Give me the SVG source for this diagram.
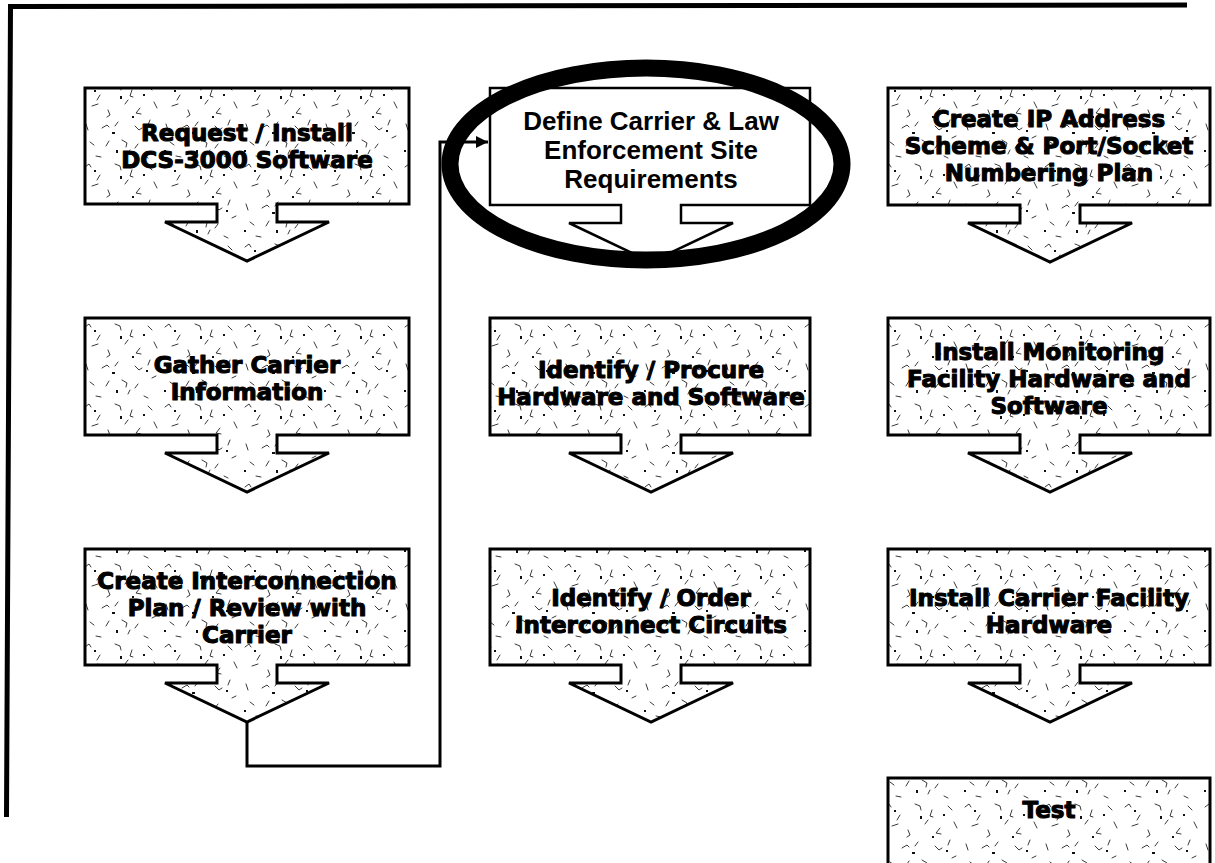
<svg xmlns="http://www.w3.org/2000/svg" width="1215" height="863" viewBox="0 0 1215 863">
  <style>
    .box { stroke: #000; stroke-width: 3; stroke-linejoin: miter; fill: url(#tex); }
    .plain { stroke: #000; stroke-width: 2.5; fill: #fff; }
    .t { font-family: "DejaVu Sans", "Liberation Sans", sans-serif; font-weight: bold; font-size: 23px; fill: #000; stroke: #000; stroke-width: 1.1; stroke-linejoin: round; text-anchor: middle; }
    .td { font-family: "Liberation Sans", Arial, sans-serif; font-weight: bold; font-size: 26px; fill: #000; text-anchor: middle; }
    .conn { fill: none; stroke: #000; stroke-width: 3; }
    .frame { fill: none; stroke: #000; stroke-width: 5; }
  </style>
  <defs>
    <pattern id="tex" width="80" height="80" patternUnits="userSpaceOnUse">
      <rect width="80" height="80" fill="#fff"/>
      <g fill="none" stroke="#222" stroke-width="0.9" stroke-linecap="round">
        <path d="M5 7 l4 -3 l2 3"/>
        <path d="M20 15 l-3 5"/>
        <path d="M35 4 l5 2 l1 4"/>
        <path d="M52 10 l-2 6 l3 1"/>
        <path d="M68 6 l4 4"/>
        <path d="M12 26 l6 -2"/>
        <path d="M28 30 l2 5 l-3 2"/>
        <path d="M45 24 l3 -4"/>
        <path d="M60 28 l-4 5 l5 1"/>
        <path d="M74 22 l3 6"/>
        <path d="M6 44 l2 6"/>
        <path d="M22 48 l5 -3 l2 2"/>
        <path d="M38 42 l-3 4"/>
        <path d="M55 46 l4 4 l3 -2"/>
        <path d="M70 40 l-2 5"/>
        <path d="M10 62 l4 3"/>
        <path d="M26 66 l3 -5"/>
        <path d="M42 60 l5 3 l-1 4"/>
        <path d="M58 64 l-3 4"/>
        <path d="M72 58 l4 -2"/>
        <path d="M16 76 l5 1"/>
        <path d="M48 74 l2 -4"/>
        <path d="M64 76 l4 2"/>
      </g>
      <g fill="#111">
        <rect x="14" y="10" width="2" height="2"/>
        <rect x="40" y="16" width="2" height="3"/>
        <rect x="63" y="14" width="2" height="2"/>
        <rect x="32" y="52" width="3" height="2"/>
        <rect x="66" y="50" width="2" height="2"/>
        <rect x="4" y="70" width="2" height="2"/>
        <rect x="52" y="36" width="2" height="2"/>
        <rect x="36" y="70" width="2" height="3"/>
      </g>
    </pattern>
    <marker id="ah" viewBox="0 0 10 10" refX="10" refY="5" markerWidth="4" markerHeight="4" orient="auto">
      <path d="M0 0 L10 5 L0 10 Z" fill="#000"/>
    </marker>
  </defs>

  <g id="connectors">
    <path class="frame" d="M1187 5 L10.5 6.5 L6.5 817"/>
    <path class="conn" d="M247 722 V766 H440 V142 H488" marker-end="url(#ah)"/>
  </g>

  <g id="n1">
    <path class="box" d="M85 88 H409 V204 H277 V222 H329 L247 261 L165 222 H217 V204 H85 Z"/>
    <text class="t" x="247" y="141">Request / Install</text>
    <text class="t" x="247" y="168">DCS-3000 Software</text>
  </g>
  <g id="n2">
    <path class="box" d="M85 318 H409 V435 H277 V453 H329 L247 492 L165 453 H217 V435 H85 Z"/>
    <text class="t" x="247" y="373">Gather Carrier</text>
    <text class="t" x="247" y="400">Information</text>
  </g>
  <g id="n3">
    <path class="box" d="M85 549 H409 V665 H277 V683 H329 L247 722 L165 683 H217 V665 H85 Z"/>
    <text class="t" x="247" y="589">Create Interconnection</text>
    <text class="t" x="247" y="616">Plan / Review with</text>
    <text class="t" x="247" y="643">Carrier</text>
  </g>

  <g id="n4">
    <path class="plain" d="M490 88 H810 V205 H681 V223 H733 L651 262 L569 223 H621 V205 H490 Z"/>
    <text class="td" x="651" y="130">Define Carrier &amp; Law</text>
    <text class="td" x="651" y="159">Enforcement Site</text>
    <text class="td" x="651" y="188">Requirements</text>
    <ellipse cx="646" cy="164" rx="196" ry="96" fill="none" stroke="#000" stroke-width="17"/>
  </g>
  <g id="n5">
    <path class="box" d="M490 318 H810 V435 H681 V453 H733 L651 492 L569 453 H621 V435 H490 Z"/>
    <text class="t" x="651" y="378">Identify / Procure</text>
    <text class="t" x="651" y="405">Hardware and Software</text>
  </g>
  <g id="n6">
    <path class="box" d="M490 549 H810 V665 H681 V683 H733 L651 722 L569 683 H621 V665 H490 Z"/>
    <text class="t" x="651" y="606">Identify / Order</text>
    <text class="t" x="651" y="633">Interconnect Circuits</text>
  </g>

  <g id="n7">
    <path class="box" d="M888 88 H1210 V205 H1080 V223 H1132 L1050 262 L968 223 H1020 V205 H888 Z"/>
    <text class="t" x="1049" y="127">Create IP Address</text>
    <text class="t" x="1049" y="154">Scheme &amp; Port/Socket</text>
    <text class="t" x="1049" y="181">Numbering Plan</text>
  </g>
  <g id="n8">
    <path class="box" d="M888 318 H1210 V435 H1080 V453 H1132 L1050 492 L968 453 H1020 V435 H888 Z"/>
    <text class="t" x="1049" y="360">Install Monitoring</text>
    <text class="t" x="1049" y="387">Facility Hardware and</text>
    <text class="t" x="1049" y="414">Software</text>
  </g>
  <g id="n9">
    <path class="box" d="M888 549 H1210 V665 H1080 V683 H1132 L1050 722 L968 683 H1020 V665 H888 Z"/>
    <text class="t" x="1049" y="606">Install Carrier Facility</text>
    <text class="t" x="1049" y="633">Hardware</text>
  </g>
  <g id="n10">
    <rect class="box" x="888" y="778" width="322" height="95"/>
    <text class="t" x="1049" y="818">Test</text>
  </g>
</svg>
